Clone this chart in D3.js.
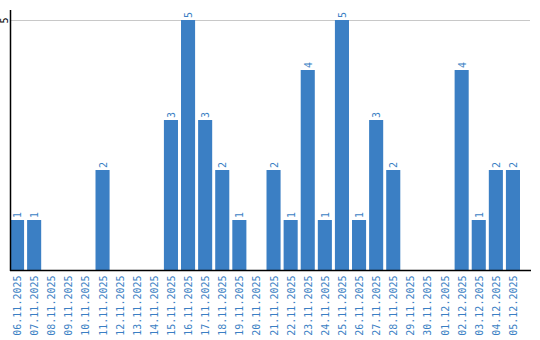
<!DOCTYPE html>
<html><head><meta charset="utf-8">
<script src="https://cdn.jsdelivr.net/npm/d3@7"></script>
<style>body{margin:0;background:#fff}svg{display:block}</style>
</head><body>
<script>
const categories = ["06.11.2025","07.11.2025","08.11.2025","09.11.2025","10.11.2025","11.11.2025","12.11.2025","13.11.2025","14.11.2025","15.11.2025","16.11.2025","17.11.2025","18.11.2025","19.11.2025","20.11.2025","21.11.2025","22.11.2025","23.11.2025","24.11.2025","25.11.2025","26.11.2025","27.11.2025","28.11.2025","29.11.2025","30.11.2025","01.12.2025","02.12.2025","03.12.2025","04.12.2025","05.12.2025"];
const values = [1,1,0,0,0,2,0,0,0,3,5,3,2,1,0,2,1,4,1,5,1,3,2,0,0,0,4,1,2,2];
const yTicks = [5];

const W = 540, H = 340;
const svg = d3.select("body").append("svg").attr("width", W).attr("height", H);
const font = "'DejaVu Sans Mono', monospace";
const blue = "#3b7fc4";

const x = d3.scaleBand().domain(categories).range([10, 520]).paddingInner(3/17).paddingOuter(0).align(0);
const y = d3.scaleLinear().domain([0, 5]).range([270, 20]);

// grid
svg.selectAll("line.grid").data(yTicks).enter().append("line")
  .attr("x1", 10).attr("x2", 530).attr("y1", d => y(d) + 0.5).attr("y2", d => y(d) + 0.5)
  .attr("stroke", "#c8c8c8").attr("stroke-width", 1);

// bars
svg.selectAll("rect.bar").data(values).enter().append("rect")
  .attr("x", (d, i) => x(categories[i]))
  .attr("y", d => y(d))
  .attr("width", x.bandwidth())
  .attr("height", d => y(0) - y(d))
  .attr("fill", blue);

// value labels
svg.selectAll("text.val").data(values).enter().filter(d => d > 0).append("text")
  .attr("transform", (d, i) => {
    const idx = values.indexOf(d);
    return null;
  });
svg.selectAll("text.val").remove();
values.forEach((v, i) => {
  if (v <= 0) return;
  const cx = x(categories[i]) + x.bandwidth() / 2;
  svg.append("text")
    .attr("transform", `translate(${cx + 4},${y(v) - 2}) rotate(-90)`)
    .attr("font-family", font).attr("font-size", 10).attr("fill", blue)
    .text(v);
});

// y axis
const yAxis = svg.append("g").attr("transform", "translate(10.5,0)")
  .call(d3.axisLeft(y).tickValues(yTicks).tickSize(0).tickFormat(d3.format("d")));
yAxis.select(".domain").remove();
yAxis.append("line").attr("x1", 0).attr("x2", 0).attr("y1", 10).attr("y2", 271).attr("stroke", "#000").attr("stroke-width", 1.5);
yAxis.selectAll(".tick text")
  .attr("font-family", font).attr("font-size", 10).attr("fill", "#000")
  .attr("x", null).attr("dy", null).attr("text-anchor", "middle")
  .attr("transform", "translate(-3,0) rotate(-90)");

// x axis
const xAxis = svg.append("g").attr("transform", "translate(0,270.5)")
  .call(d3.axisBottom(x).tickSize(0));
xAxis.select(".domain").remove();
xAxis.append("line").attr("x1", 10).attr("x2", 531).attr("y1", 0).attr("y2", 0).attr("stroke", "#000").attr("stroke-width", 1.5);
xAxis.selectAll(".tick text")
  .attr("font-family", font).attr("font-size", 10).attr("fill", blue)
  .attr("y", null).attr("dy", null).attr("text-anchor", "end")
  .attr("transform", "translate(4,5) rotate(-90)");
</script>
</body></html>
